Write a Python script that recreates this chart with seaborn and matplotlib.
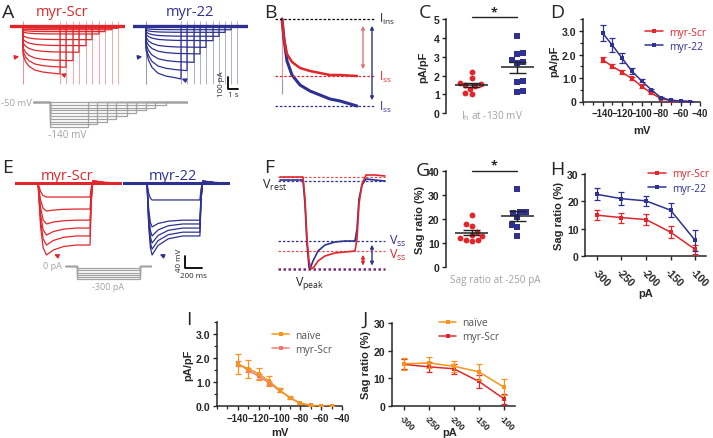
import numpy as np
import matplotlib
matplotlib.use("Agg")
import matplotlib.pyplot as plt
import seaborn as sns
from matplotlib.ticker import MultipleLocator

RED = "#e2262b"
BLUE = "#2e3192"
ORANGE = "#f7941d"
GRAY = "#a3a3a3"
W, H = 713, 439
TICKFONT = ["Liberation Sans Narrow", "Liberation Sans", "DejaVu Sans"]

# ---------------- data ----------------
# A: Ih traces (pA) for hyperpolarising steps from -50 mV
a_step_mv = [-50, -60, -70, -80, -90, -100, -110, -120, -130, -140]
a_dur_scr = [9.5, 8.9, 8.2, 7.6, 6.9, 6.3, 5.6, 5.0, 4.3, 3.7]
a_dur_22 = [9.1, 8.5, 7.9, 7.3, 6.7, 6.0, 5.4, 4.8, 4.1, 3.5]
a_inst_scr = [-15, -25, -36, -50, -80, -110, -140, -180, -210, -240]
a_ss_scr = [-19, -31, -47, -67, -114, -164, -219, -289, -344, -400]
a_inst_22 = [-9, -22, -35, -50, -70, -95, -120, -150, -180, -200]
a_ss_22 = [-11, -31, -53, -86, -122, -178, -233, -303, -372, -442]
a_shape_t = [0, 0.25, 0.6, 1.2, 2.0, 3.0]      # s after step onset
a_shape_f = [0, 0.35, 0.6, 0.8, 0.9, 0.96]     # fraction inst -> ss
a_prot_dur = [9.7, 8.9, 8.1, 7.4, 6.6, 5.9, 5.1, 4.4, 3.6, 2.9]

# B: normalised example traces
b_time = [0, 0.1, 0.25, 0.5, 0.9, 1.4, 1.9, 2.4, 2.9, 3.75]
b_scr = [0, -40, -70, -86, -98, -104, -108, -112, -112, -114]
b_22 = [0, -40, -84, -112, -132, -144, -152, -160, -164, -174]

# C: Ih density at -130 mV (pA/pF)
c_scr = [2.2, 1.85, 1.6, 1.55, 1.5, 1.45, 1.3, 1.05, 1.0]
c_22 = [4.1, 3.2, 3.15, 2.8, 2.7, 2.65, 1.7, 1.65, 1.2, 1.15]

# D / I: current density vs voltage
d_mv = [-140, -130, -120, -110, -100, -90, -80, -70, -60, -50]
d_scr = [1.78, 1.50, 1.25, 0.98, 0.65, 0.36, 0.12, 0.04, 0.01, 0.0]
d_scr_err = [0.10, 0.08, 0.10, 0.08, 0.06, 0.04, 0.03, 0.02, 0.01, 0.01]
d_22 = [2.92, 2.40, 1.85, 1.30, 0.88, 0.50, 0.16, 0.06, 0.02, 0.0]
d_22_err = [0.35, 0.30, 0.20, 0.13, 0.07, 0.05, 0.03, 0.02, 0.01, 0.01]
i_naive = [1.75, 1.57, 1.35, 1.05, 0.68, 0.36, 0.12, 0.03, 0.0, 0.0]
i_naive_err = [0.42, 0.37, 0.25, 0.20, 0.08, 0.05, 0.03, 0.02, 0.01, 0.01]

# E: voltage responses (mV) to current steps
e_step_pa = [-50, -100, -150, -200, -250, -300]
e_ss_scr = [-48, -89, -127, -154, -181, -212]
e_peak_scr = [-48, -96, -140, -178, -212, -246]
e_ss_22 = [-58, -127, -140, -154, -168, -181]
e_peak_22 = [-58, -150, -181, -205, -226, -246]
e_t_scr = [-270, 0, 30, 60, 100, 180, 300, 450, 612, 625, 645, 690, 780, 990]
e_t_22 = [-280, 0, 20, 40, 60, 130, 250, 420, 622, 635, 655, 700, 790, 980]
e_w_peak = [0, 0, 0.6, 0.9, 1.0, 0.5, 0.15, 0, 0, 0, 0, 0, 0, 0]
e_w_ss = [0, 0, 0, 0, 0, 0.5, 0.85, 1.0, 1.0, 0.35, -0.04, -0.03, -0.01, 0]

# F: example sag traces (ms, mV)
f_t_scr = [0, 230, 250, 270, 290, 310, 340, 380, 450, 550, 650, 750, 770, 790, 820, 860, 950, 1050]
f_v_scr = [-65, -65, -76, -96, -107, -111, -110, -107, -104.5, -103, -102.5, -102, -96, -78.5, -68.5, -64, -64, -64.5]
f_t_22 = [0, 230, 250, 270, 290, 300, 330, 380, 450, 550, 650, 750, 770, 790, 820, 860, 950, 1050]
f_v_22 = [-66.5, -66.5, -78.5, -98.5, -110, -111, -107, -102, -99, -97.5, -97, -97, -91, -76, -69, -66, -66.5, -67]

# G: sag ratio at -250 pA (%)
g_scr = [21.5, 18.0, 17.0, 14.5, 13.5, 13.0, 12.0, 11.5, 11.5, 11.0]
g_22 = [32.5, 23.0, 23.0, 22.5, 21.0, 17.5, 16.5, 12.8]

# H / J: sag ratio vs injected current
h_pa = [-300, -250, -200, -150, -100]
h_scr = [15.0, 14.1, 13.4, 8.8, 2.5]
h_scr_err = [1.8, 1.8, 1.9, 2.3, 1.8]
h_22 = [22.6, 21.0, 20.2, 16.8, 5.8]
h_22_err = [2.2, 2.4, 1.9, 2.6, 3.8]
j_naive = [15.2, 15.5, 14.3, 12.3, 6.7]
j_naive_err = [2.2, 2.0, 2.0, 2.8, 2.9]

# ---------------- figure ----------------
sns.set_style("ticks")
plt.rcParams["font.family"] = ["Open Sans", "DejaVu Sans"]
plt.rcParams["mathtext.fontset"] = "custom"
plt.rcParams["mathtext.rm"] = "Open Sans"

fig = plt.figure(figsize=(W / 100, H / 100), dpi=100)


def box(x0, y0, x1, y1):
    return fig.add_axes([x0 / W, 1 - y1 / H, (x1 - x0) / W, (y1 - y0) / H])


def ftext(x, y, s, **kw):
    fig.text(x / W, 1 - y / H, s, **kw)


def style(ax, size=7.6):
    sns.despine(ax=ax)
    for s in ["left", "bottom"]:
        ax.spines[s].set_linewidth(1.1)
    ax.tick_params(width=1.0, length=3, pad=1.5)
    ax.tick_params(which="minor", width=0.9, length=2)
    for lab in ax.get_xticklabels() + ax.get_yticklabels():
        lab.set_fontweight("bold")
        lab.set_fontfamily(TICKFONT)
        lab.set_fontsize(size)


def axlabel(ax, xl=None, yl=None, xpad=2, ypad=2):
    kw = dict(fontsize=8, fontweight="bold", family=TICKFONT)
    if xl is not None:
        ax.set_xlabel(xl, labelpad=xpad, **kw)
    if yl is not None:
        ax.set_ylabel(yl, labelpad=ypad, **kw)


# panel letters
for s, x, y in [("A", 2, 18), ("B", 264, 18), ("C", 419, 18), ("D", 550, 18),
                ("E", 2, 173), ("F", 264, 173), ("G", 416, 176), ("H", 550, 175),
                ("I", 186, 325), ("J", 363, 325)]:
    ftext(x, y, s, fontsize=14, va="baseline", ha="left")

# ---- A ----
for name, color, inst, ss, dur, x0, xc in [
        ("myr-Scr", RED, a_inst_scr, a_ss_scr, a_dur_scr, 10, 62),
        ("myr-22", BLUE, a_inst_22, a_ss_22, a_dur_22, 133, 190)]:
    ax = box(x0, 18, x0 + 115, 95)
    for i0, s0, d0 in zip(inst, ss, dur):
        t = [-1.3, 0, 0] + a_shape_t[1:] + [d0, d0, 10.2]
        v = [0, 0, i0] + [i0 + f * (s0 - i0) for f in a_shape_f[1:]] + [s0, 0, 0]
        ax.plot(t, v, color=color, lw=0.9)
        ax.vlines(d0, -480, 40, color=color, lw=0.6, alpha=0.45)
    ax.vlines(0, -480, 40, color=color, lw=0.6, alpha=0.6)
    ax.axhline(0, color=color, lw=2.4)
    ax.set_xlim(-1.3, 10.2)
    ax.set_ylim(-567, 75)
    ax.axis("off")
    ftext(xc, 12, name, color=color, fontsize=10.5, ha="center", va="center")
    ax.annotate("", xy=(-0.1, -250), xytext=(-0.9, -262),
                arrowprops=dict(arrowstyle="-|>", color=color, lw=1, mutation_scale=6))
    ax.annotate("", xy=(dur[-1] - 0.2, ss[-1] + 10), xytext=(dur[-1] + 0.6, ss[-1] - 15),
                arrowprops=dict(arrowstyle="-|>", color=color, lw=1, mutation_scale=6))
    if color == BLUE:
        ax.plot([8.2, 8.2, 9.2], [-425, -525, -525], color="black", lw=1.3, clip_on=False)
        ax.text(7.55, -475, "100 pA", rotation=90, fontsize=5.8, ha="center", va="center")
        ax.text(8.75, -575, "1 s", fontsize=5.8, ha="center", va="center")

ax = box(33, 98, 188, 132)
for mv, d0 in zip(a_step_mv, a_prot_dur):
    ax.plot([-1.3, 0, 0, d0, d0, 10.6], [-50, -50, mv, mv, -50, -50], color=GRAY, lw=0.9)
ax.set_xlim(-1.3, 10.6)
ax.set_ylim(-154, -32)
ax.axis("off")
ftext(1, 103, "-50 mV", color=GRAY, fontsize=6.8, ha="left", va="center")
ftext(48, 135, "-140 mV", color=GRAY, fontsize=7.2, ha="left", va="center")

# ---- B ----
ax = box(275, 12, 380, 115)
ax.vlines(0, -120, 0, color=RED, lw=0.8, alpha=0.5)
ax.vlines(0, -150, -120, color=BLUE, lw=0.8, alpha=0.5)
ax.plot(b_time, b_22, color=BLUE, lw=2.2)
ax.plot(b_time, b_scr, color=RED, lw=1.8)
ax.hlines(0, -0.35, 4.65, color="black", lw=0.9, linestyles=(0, (2, 1.5)))
ax.hlines(b_scr[-1], -0.35, 4.65, color=RED, lw=0.9, linestyles=(0, (2, 1.5)))
ax.hlines(b_22[-1], -0.35, 4.65, color=BLUE, lw=0.9, linestyles=(0, (2, 1.5)))
ax.annotate("", xy=(4.05, -8), xytext=(4.05, b_scr[-1] + 8),
            arrowprops=dict(arrowstyle="<|-|>", color="#e57373", lw=1, mutation_scale=5))
ax.annotate("", xy=(4.5, -8), xytext=(4.5, b_22[-1] + 6),
            arrowprops=dict(arrowstyle="<|-|>", color=BLUE, lw=1, mutation_scale=5))
ax.text(4.85, 2, r"I$_{\rm ins}$", fontsize=8.5, va="center", clip_on=False)
ax.text(4.85, b_scr[-1], r"I$_{\rm ss}$", fontsize=8.5, va="center", color=RED, clip_on=False)
ax.text(4.85, b_22[-1], r"I$_{\rm ss}$", fontsize=8.5, va="center", color=BLUE, clip_on=False)
ax.set_xlim(-0.35, 4.9)
ax.set_ylim(-190, 16)
ax.axis("off")


# ---- scatter panels C and G ----
def scatter_panel(ax, scr, g22, ylim, step, sig_y, star_y):
    sns.swarmplot(x=["Scr"] * len(scr), y=scr, order=["Scr", "22"], color=RED,
                  size=4.2, ax=ax, zorder=3)
    sns.swarmplot(x=["22"] * len(g22), y=g22, order=["Scr", "22"], color=BLUE,
                  marker="s", size=4.0, ax=ax, zorder=3)
    for pos, vals in [(0, scr), (1, g22)]:
        m = np.mean(vals)
        se = np.std(vals, ddof=1) / np.sqrt(len(vals))
        ax.hlines(m, pos - 0.35, pos + 0.35, color="#222222", lw=1.1, zorder=4)
        ax.hlines([m - se, m + se], pos - 0.18, pos + 0.18, color="#222222", lw=1.0, zorder=4)
        ax.vlines(pos, m - se, m + se, color="#222222", lw=1.0, zorder=4)
    ax.plot([0, 1], [sig_y, sig_y], color="#222222", lw=1.0, clip_on=False)
    ax.text(0.5, star_y, "*", ha="center", va="center", fontsize=9, fontweight="bold")
    ax.set_xlim(-0.556, 1.6)
    ax.set_ylim(*ylim)
    ax.yaxis.set_major_locator(MultipleLocator(step))
    ax.set_xticks([])
    ax.set_xlabel("")
    style(ax)
    ax.spines["bottom"].set_visible(False)


ax = box(446, 20, 545, 114.3)
scatter_panel(ax, c_scr, c_22, (0, 5), 1, 5.1, 5.4)
axlabel(ax, yl="pA/pF", ypad=4)
ftext(492, 116, r"I$_{\rm h}$ at -130 mV", color=GRAY, fontsize=7.2, ha="center", va="center")

ax = box(446, 171.7, 545, 268.3)
scatter_panel(ax, g_scr, g_22, (0, 40), 10, 40, 42.3)
axlabel(ax, yl="Sag ratio (%)", ypad=2)
ftext(495, 280, "Sag ratio at -250 pA", color=GRAY, fontsize=7.2, ha="center", va="center")


# ---- line panels ----
def line_series(ax, x, y, err, color, label, alpha=1.0, z=3):
    ax.errorbar(x, y, yerr=err, fmt="none", ecolor=color, elinewidth=0.9,
                capsize=2, capthick=0.9, alpha=alpha, zorder=z)
    sns.lineplot(x=x, y=y, color=color, marker="s", markersize=3.2, markeredgewidth=0,
                 lw=1.1, label=label, ax=ax, alpha=alpha, zorder=z + 1)


def iv_axes(ax, ylabels, xpad):
    ax.set_xlim(-160, -40)
    ax.set_ylim(0, 3.5)
    ax.set_xticks([-140, -120, -100, -80, -60, -40])
    ax.xaxis.set_minor_locator(MultipleLocator(10))
    ax.set_yticks([0, 1, 2, 3])
    ax.set_yticklabels(ylabels)
    ax.yaxis.set_minor_locator(MultipleLocator(0.5))
    axlabel(ax, "mV", "pA/pF", xpad=xpad, ypad=2)
    style(ax)
    for lab in ax.get_xticklabels():
        lab.set_fontsize(6.9)


def sag_axes(ax, size, pad):
    ax.set_xlim(-324, -78)
    ax.set_ylim(0, 30)
    ax.set_xticks(h_pa)
    ax.set_yticks([0, 10, 20, 30])
    ax.set_xticklabels([str(v) for v in h_pa], rotation=-45, ha="left",
                       rotation_mode="anchor")
    axlabel(ax, "pA", "Sag ratio (%)", xpad=0, ypad=2)
    style(ax)
    ax.tick_params(axis="x", pad=pad)
    for lab in ax.get_xticklabels():
        lab.set_fontsize(size)


def legend(ax, handles, labels, colored, anchor):
    ax.legend(handles, labels, frameon=False, fontsize=7.4, handlelength=1.7,
              handletextpad=0.6, labelspacing=0.3, loc="upper right",
              bbox_to_anchor=anchor,
              labelcolor="linecolor" if colored else "#555555")


ax = box(583, 20.3, 700, 102.5)
line_series(ax, d_mv, d_scr, d_scr_err, RED, "myr-Scr")
line_series(ax, d_mv, d_22, d_22_err, BLUE, "myr-22")
iv_axes(ax, ["0", "1.0", "2.0", "3.0"], 5)
h, l = ax.get_legend_handles_labels()
legend(ax, h, l, True, (1.13, 1.02))

ax = box(585, 175, 706, 257.3)
line_series(ax, h_pa, h_scr, h_scr_err, RED, "myr-Scr")
line_series(ax, h_pa, h_22, h_22_err, BLUE, "myr-22")
sag_axes(ax, 7.6, 4)
h, l = ax.get_legend_handles_labels()
legend(ax, h, l, True, (1.1, 1.18))

ax = box(217, 323.3, 342, 407.3)
line_series(ax, d_mv, d_scr, d_scr_err, "#ee6b5e", "myr-Scr", alpha=0.85, z=2)
line_series(ax, d_mv, i_naive, i_naive_err, ORANGE, "naïve", z=4)
iv_axes(ax, ["0.0", "1.0", "2.0", "3.0"], 3)
h, l = ax.get_legend_handles_labels()
legend(ax, h[::-1], l[::-1], False, (1.0, 1.02))

ax = box(391.7, 324, 515, 406.7)
line_series(ax, h_pa, h_scr, h_scr_err, RED, "myr-Scr", z=2)
line_series(ax, h_pa, j_naive, j_naive_err, ORANGE, "naïve", z=4)
sag_axes(ax, 6.3, 2.5)
ax.xaxis.set_label_coords(0.47, -0.255)
h, l = ax.get_legend_handles_labels()
legend(ax, h[::-1], l[::-1], False, (0.95, 1.18))

# ---- E ----
for name, color, pk, ss, tt, x0, x_on, xc in [
        ("myr-Scr", RED, e_peak_scr, e_ss_scr, e_t_scr, 15, 38, 67),
        ("myr-22", BLUE, e_peak_22, e_ss_22, e_t_22, 123, 147, 173)]:
    ax = box(x0, 178, x0 + 107, 275)
    for p0, s0 in zip(pk, ss):
        v = [wp * p0 + ws * s0 for wp, ws in zip(e_w_peak, e_w_ss)]
        ax.plot(tt, v, color=color, lw=0.9)
    ax.axhline(0, color=color, lw=2.2)
    t_lo = -(x_on - x0) * 11.76
    ax.set_xlim(t_lo, t_lo + 107 * 11.76)
    ax.set_ylim(-311, 20.5)
    ax.axis("off")
    ftext(xc, 176, name, color=color, fontsize=10.5, ha="center", va="center")
    ax.annotate("", xy=(tt[4] + 60, pk[-1] + 6), xytext=(tt[4] + 170, pk[-1] - 8),
                arrowprops=dict(arrowstyle="-|>", color=color, lw=1, mutation_scale=6))
    if color == BLUE:
        ax.plot([447, 447, 647], [-250, -290, -290], color="black", lw=1.3, clip_on=False)
        ax.text(380, -262, "40 mV", rotation=90, fontsize=5.8, ha="center", va="center")
        ax.text(547, -315, "200 ms", fontsize=5.8, ha="center", va="center")

# current step protocol under E
ax = box(65, 262, 152, 285)
for pa in e_step_pa:
    ax.plot([-116, 0, 0, 610, 610, 726], [0, 0, pa, pa, 0, 0], color=GRAY, lw=0.9)
ax.set_xlim(-116, 726)
ax.set_ylim(-415, 115)
ax.axis("off")
ftext(62, 267, "0 pA", color=GRAY, fontsize=6.5, ha="right", va="center")
ftext(108, 288, "-300 pA", color=GRAY, fontsize=6.5, ha="center", va="center")

# ---- F ----
ax = box(275, 166, 392, 290)
dash = (0, (2, 1.5))
ax.hlines(f_v_scr[0], -20, 1050, color=RED, lw=0.9, linestyles=dash, alpha=0.8)
ax.hlines(f_v_22[0] - 0.5, -20, 1050, color=BLUE, lw=0.9, linestyles=dash)
ax.hlines(f_v_22[11], -20, 1050, color=BLUE, lw=0.9, linestyles=dash)
ax.hlines(f_v_scr[11], -20, 1050, color=RED, lw=0.9, linestyles=dash, alpha=0.8)
ax.hlines(min(f_v_scr), -20, 1050, color="#7d2a76", lw=1.8, linestyles=(0, (1, 1)))
ax.plot(f_t_22, f_v_22, color=BLUE, lw=1.2)
ax.plot(f_t_scr, f_v_scr, color=RED, lw=1.2)
ax.annotate("", xy=(830, f_v_scr[11] - 0.5), xytext=(830, min(f_v_scr) + 0.3),
            arrowprops=dict(arrowstyle="<|-|>", color=RED, lw=1, mutation_scale=5))
ax.annotate("", xy=(920, f_v_22[11] - 0.5), xytext=(920, min(f_v_22) + 0.3),
            arrowprops=dict(arrowstyle="<|-|>", color=BLUE, lw=1, mutation_scale=5))
ax.text(1090, f_v_22[11] + 0.5, r"V$_{\rm ss}$", fontsize=9, color=BLUE, va="center", clip_on=False)
ax.text(1090, f_v_scr[11] - 1.5, r"V$_{\rm ss}$", fontsize=9, color=RED, va="center", clip_on=False)
ax.text(300, -117.5, r"V$_{\rm peak}$", fontsize=9, ha="center", va="center")
ax.text(-185, -68.5, r"V$_{\rm rest}$", fontsize=9, ha="left", va="center", clip_on=False)
ax.set_xlim(-50, 1120)
ax.set_ylim(-121, -59)
ax.axis("off")

fig.savefig("out.png", dpi=100)
